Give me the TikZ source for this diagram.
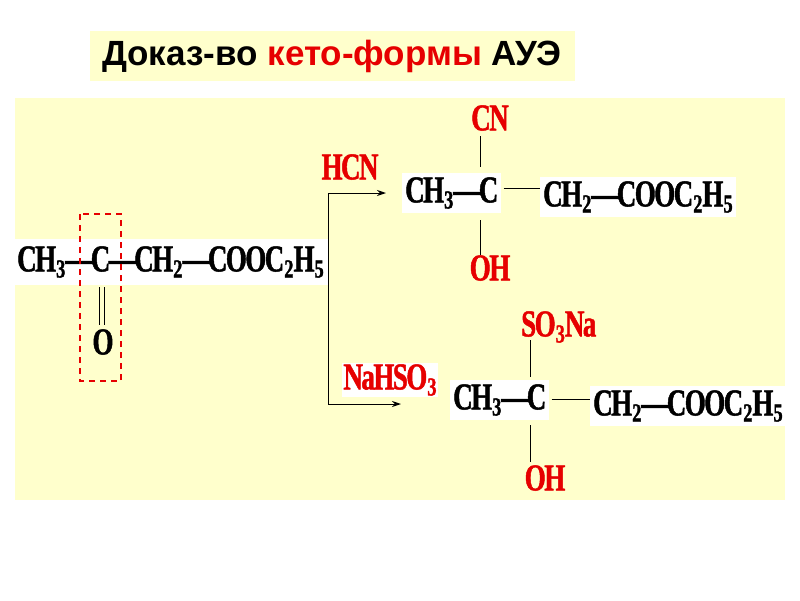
\documentclass[tikz,border=0pt]{standalone}
\usepackage{fontspec}
\setmainfont{Liberation Serif}
\newfontfamily\titlefont{Liberation Sans}
\newfontfamily\chemfont[FakeStretch=0.71,FakeBold=1.2,LetterSpace=-4]{Liberation Serif Bold}
\newcommand{\ssub}[1]{\raisebox{-0.35ex}{\fontsize{26}{26}\selectfont #1}}
\definecolor{bgyel}{RGB}{255,255,204}
\definecolor{myred}{RGB}{230,0,0}
\tikzset{
  chem/.style={font=\chemfont\fontsize{38}{38}\selectfont, inner sep=1pt},
  wchem/.style={chem, fill=white, inner xsep=3pt, inner ysep=4pt},
  rchem/.style={chem, text=myred},
  bond/.style={line width=1pt},
  arr/.style={line width=1pt,-{Stealth[length=9pt,width=6pt]}}
}
\usetikzlibrary{arrows.meta}
\begin{document}
\begin{tikzpicture}[x=1pt,y=-1pt]
\useasboundingbox (0,0) rectangle (800,600);
\fill[white] (0,0) rectangle (800,600);
\fill[bgyel] (15,98) rectangle (785,500);
\node[fill=bgyel, minimum width=485, minimum height=50, font=\titlefont\bfseries\fontsize{35}{35}\selectfont] (title) at (332,56) {Доказ-во \textcolor{myred}{кето-формы} АУЭ};
% starting compound
\fill[white] (15,239) rectangle (328,285);
\node[chem, anchor=west] (start) at (16,262) {CH\ssub{3}—C—CH\ssub{2}—COOC\ssub{2}H\ssub{5}};
\node[chem] (O) at (103,342) {O};
\draw[bond] (99,287) -- (99,325) (104,287) -- (104,325);
\draw[myred, line width=2pt, dash pattern=on 6pt off 5pt] (80,214) rectangle (121,381);
% bracket and arrows
\coordinate (b1) at (328,193);
\coordinate (b2) at (328,404);
\coordinate (a1) at (386,193);
\coordinate (a2) at (401,404);
\draw[line width=1pt] (328,262) -- (b1);
\draw[line width=1pt] (328,262) -- (b2);
\draw[arr] (b1) -- (a1);
\draw[arr] (b2) -- (a2);
\node[rchem, fill=bgyel] (hcn) at (350,167) {HCN};
\node[rchem, fill=white] (nahso) at (390,380) {NaHSO\ssub{3}};
% upper product
\node[wchem, anchor=west] (u1) at (402,193) {CH\ssub{3}—C};
\node[wchem, anchor=west] (u2) at (540,197) {CH\ssub{2}—COOC\ssub{2}H\ssub{5}};
\node[rchem] (cn) at (490,118) {CN};
\node[rchem] (oh1) at (490,268) {OH};
\draw[bond] (u1.east) ++(2,-5) coordinate (x1) -- (u2.west |- x1);
\draw[bond] (480,136) -- (480,167);
\draw[bond] (480,220) -- (480,255);
% lower product
\node[wchem, anchor=west] (l1) at (450,400) {CH\ssub{3}—C};
\node[wchem, anchor=west] (l2) at (590,406) {CH\ssub{2}—COOC\ssub{2}H\ssub{5}};
\node[rchem, anchor=west] (so3) at (520,327) {SO\ssub{3}Na};
\node[rchem] (oh2) at (545,478) {OH};
\draw[bond] (l1.east) ++(2,-1) coordinate (x2) -- (l2.west |- x2);
\draw[bond] (530,340) -- (530,377);
\draw[bond] (530,425) -- (530,462);
\end{tikzpicture}
\end{document}
